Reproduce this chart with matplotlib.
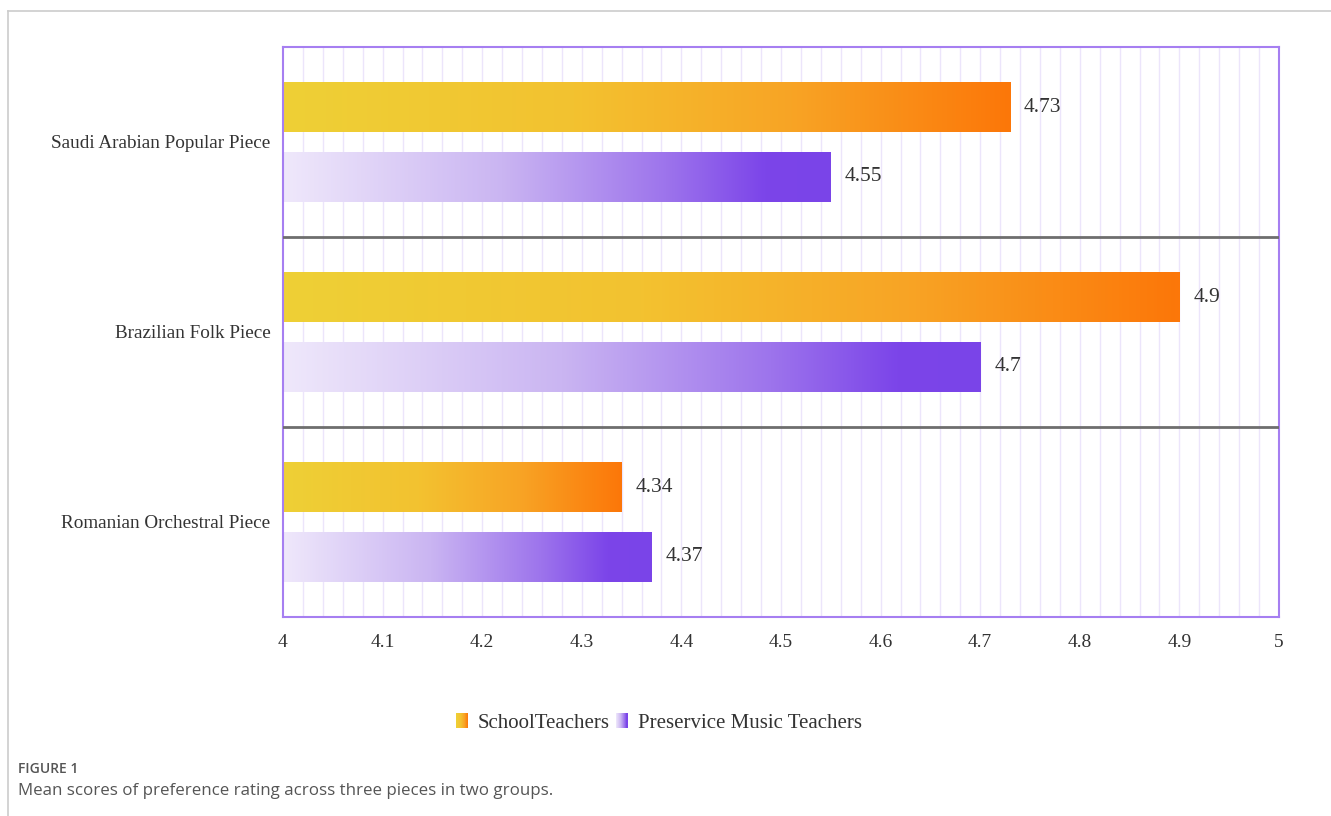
import numpy as np
import matplotlib
matplotlib.use("Agg")
import matplotlib.pyplot as plt
from matplotlib.colors import LinearSegmentedColormap
from matplotlib.legend_handler import HandlerBase
from matplotlib.patches import Rectangle
from matplotlib.lines import Line2D

# ── 데이터 ─────────────────────────────────────────────
pieces = ["Romanian Orchestral Piece", "Brazilian Folk Piece", "Saudi Arabian Popular Piece"]
school_teachers = [4.34, 4.9, 4.73]
preservice_teachers = [4.37, 4.7, 4.55]
series_names = ["SchoolTeachers", "Preservice Music Teachers"]
x_ticks = [4, 4.1, 4.2, 4.3, 4.4, 4.5, 4.6, 4.7, 4.8, 4.9, 5]

SERIF = ["Liberation Serif", "DejaVu Serif"]
SANS = ["Open Sans", "DejaVu Sans"]

orange_cmap = LinearSegmentedColormap.from_list(
    "orng", [(0, "#EED036"), (0.4, "#F3C230"), (0.7, "#F8A425"), (1.0, "#FC7709")])
purple_cmap = LinearSegmentedColormap.from_list(
    "purp", [(0, "#EFE8FB"), (0.4, "#CAB5F2"), (0.7, "#9D74EC"), (0.88, "#7C45E9"), (1.0, "#7A44E8")])


class HandlerGradient(HandlerBase):
    """범례용 그라디언트 사각형"""
    def __init__(self, cmap):
        super().__init__()
        self.cmap = cmap

    def create_artists(self, legend, orig_handle, xdescent, ydescent,
                       width, height, fontsize, trans):
        n = 12
        w = width
        h = height * 1.15
        arts = []
        for i in range(n):
            r = Rectangle((i * w / n - xdescent, -ydescent - 0.05 * height), w / n + 0.3, h,
                          facecolor=self.cmap((i + 0.5) / n), edgecolor="none",
                          transform=trans)
            arts.append(r)
        return arts


fig = plt.figure(figsize=(13.31, 8.16), dpi=100)
ax = fig.add_axes([283 / 1331, 1 - 617 / 816, (1279 - 283) / 1331, (617 - 47) / 816])

bar_h = 0.263
off = 0.184
y = np.arange(len(pieces))

for i in range(len(pieces)):
    for val, yc, cmap in [(school_teachers[i], y[i] + off, orange_cmap),
                          (preservice_teachers[i], y[i] - off, purple_cmap)]:
        grad = np.linspace(0, 1, 256).reshape(1, -1)
        ax.imshow(grad, cmap=cmap, aspect="auto", interpolation="bilinear",
                  extent=[4, val, yc - bar_h / 2, yc + bar_h / 2], zorder=2)
        ax.text(val + 0.014, yc, f"{val:g}", va="center", ha="left",
                fontsize=15.5, color="#333333", family=SERIF)

ax.set_xlim(4, 5)
ax.set_ylim(-0.5, len(pieces) - 0.5)

# 세로 보조 격자 (0.02 간격)
for gx in np.arange(4.02, 5.0, 0.02):
    ax.axvline(gx, color="#ECE5FB", linewidth=1.0, zorder=1)

# 범주 구분선
for sy in [0.5, 1.5]:
    ax.axhline(sy, color="#6E6E6E", linewidth=2.0, zorder=3)

for sp in ax.spines.values():
    sp.set_color("#A67FF1")
    sp.set_linewidth(1.5)

ax.set_xticks(x_ticks)
ax.set_xticklabels([f"{t:g}" for t in x_ticks], family=SERIF, fontsize=14, color="#333333")
ax.set_yticks(y)
ax.set_yticklabels(pieces, family=SERIF, fontsize=13.8, color="#333333")
ax.tick_params(axis="both", length=0)
ax.tick_params(axis="x", pad=12)
ax.tick_params(axis="y", pad=9)

# 범례
h1 = Rectangle((0, 0), 1, 1)
h2 = Rectangle((0, 0), 1, 1)
fig.legend([h1, h2], series_names, loc="center", bbox_to_anchor=(659 / 1331, 1 - 724 / 816),
           ncol=2, frameon=False, handler_map={h1: HandlerGradient(orange_cmap),
                                               h2: HandlerGradient(purple_cmap)},
           prop={"family": SERIF, "size": 15}, labelcolor="#333333",
           handlelength=0.55, handletextpad=0.5, columnspacing=0.3, handleheight=0.6)

# 외곽 테두리 (왼쪽, 위)
fig.add_artist(Line2D([8 / 1331, 8 / 1331], [0, 1 - 11 / 816], transform=fig.transFigure,
                      color="#CCCCCC", linewidth=1.2))
fig.add_artist(Line2D([8 / 1331, 1], [1 - 11 / 816, 1 - 11 / 816], transform=fig.transFigure,
                      color="#CCCCCC", linewidth=1.2))

# 캡션
fig.text(18 / 1331, 1 - 769 / 816, "FIGURE 1", fontsize=10, color="#555555",
         family=SANS, va="center", ha="left", fontweight="semibold")
fig.text(18 / 1331, 1 - 791 / 816, "Mean scores of preference rating across three pieces in two groups.",
         fontsize=12.2, color="#555555", family=SANS, va="center", ha="left")

fig.savefig("out.png", dpi=100)
